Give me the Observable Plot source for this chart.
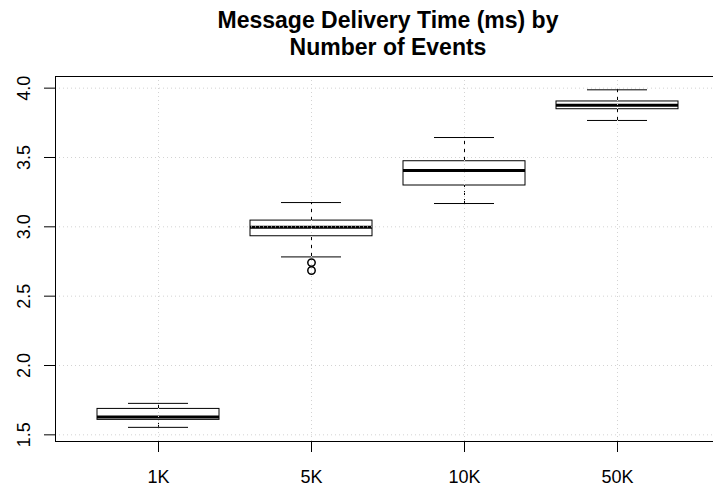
<!DOCTYPE html>
<html><head><meta charset="utf-8">
<script src="https://cdn.jsdelivr.net/npm/d3@7"></script>
<script src="https://cdn.jsdelivr.net/npm/@observablehq/plot@0.6"></script>
<style>body{margin:0;background:#fff}</style>
</head><body><div id="chart"></div>
<script>
const title = "Message Delivery Time (ms) by\nNumber of Events";
const cats = ["1K", "5K", "10K", "50K"];
const whiskerLow = [1.554, 2.783, 3.168, 3.767];
const q1 = [1.608, 2.932, 3.298, 3.848];
const median = [1.628, 2.997, 3.407, 3.877];
const q3 = [1.687, 3.045, 3.473, 3.904];
const whiskerHigh = [1.727, 3.175, 3.644, 3.988];
const outlierCat = ["5K", "5K"];
const outlierVal = [2.742, 2.685];
const yTicks = [1.5, 2.0, 2.5, 3.0, 3.5, 4.0];

const data = cats.map((c, i) => ({cat: c, lo: whiskerLow[i], q1: q1[i], med: median[i], q3: q3[i], hi: whiskerHigh[i]}));
const outliers = outlierCat.map((c, i) => ({cat: c, v: outlierVal[i]}));
const grid = {stroke: "#d3d3d3", strokeOpacity: 1, strokeDasharray: "1,3"};

const chart = Plot.plot({
  width: 713, height: 489,
  marginLeft: 55, marginRight: -7, marginTop: 76, marginBottom: 48,
  style: {fontFamily: "'Liberation Sans', Arial, sans-serif", background: "white", color: "black"},
  x: {type: "band", domain: cats, paddingInner: 0.2, paddingOuter: 0.26},
  y: {domain: [1.452, 4.084]},
  marks: [
    Plot.axisX({tickSize: 11, tickPadding: 18, fontSize: 18, label: null}),
    Plot.axisY(yTicks, {tickSize: 11, tickFormat: () => "", label: null}),
    Plot.text(yTicks, {y: d => d, text: d => d.toFixed(1), frameAnchor: "left", rotate: -90, dx: -31, fontSize: 18, textAnchor: "middle", lineAnchor: "middle"}),
    Plot.ruleX(data, {x: "cat", y1: "q3", y2: "hi", strokeDasharray: "4,4"}),
    Plot.ruleX(data, {x: "cat", y1: "lo", y2: "q1", strokeDasharray: "4,4"}),
    Plot.tickY(data, {x: "cat", y: "hi", inset: 31}),
    Plot.tickY(data, {x: "cat", y: "lo", inset: 31}),
    Plot.barY(data, {x: "cat", y1: "q1", y2: "q3", fill: "white", stroke: "black"}),
    Plot.tickY(data, {x: "cat", y: "med", strokeWidth: 3}),
    Plot.dot(outliers, {x: "cat", y: "v", r: 3.7, stroke: "black"}),
    Plot.gridY(yTicks, grid),
    Plot.gridX(cats, grid),
    Plot.frame({stroke: "black"}),
    Plot.text([title], {frameAnchor: "top", dy: -67.6, lineAnchor: "top", fontSize: 23, fontWeight: "bold", lineHeight: 1.174})
  ]
});
document.getElementById("chart").appendChild(chart);
</script>
</body></html>
